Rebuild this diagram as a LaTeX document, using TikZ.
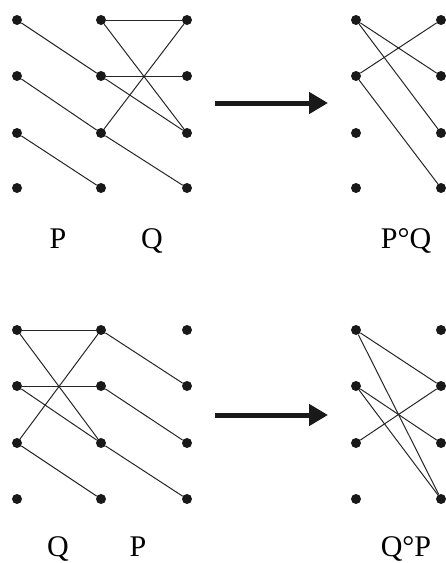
\documentclass[tikz,border=0pt]{standalone}
\usepackage{fontspec}
\setmainfont{Liberation Serif}
\usetikzlibrary{arrows.meta}

\begin{document}
\begin{tikzpicture}[x=1pt,y=-1pt,
 dot/.style={circle,fill=black!90,inner sep=0pt,minimum size=10pt},
 link/.style={line width=1pt,black!85},
 bigarrow/.style={-{Triangle[length=19pt,width=21pt]},line width=5pt,black!90},
 lbl/.style={font=\fontsize{30}{36}\selectfont,anchor=base,inner sep=0pt}]
\useasboundingbox (0,0) rectangle (446,563);

% dots of the four graphs
\foreach \c/\x in {0/17,1/101,2/187}
 \foreach \r/\yt/\yb in {0/20/330,1/76/386,2/133/443,3/188/499} {
  \node[dot] (pq-\c-\r) at (\x,\yt) {};
  \node[dot] (qp-\c-\r) at (\x,\yb) {};
 }
\foreach \c/\x in {0/356,1/441}
 \foreach \r/\yt/\yb in {0/20/330,1/76/386,2/133/443,3/188/499} {
  \node[dot] (pcq-\c-\r) at (\x,\yt) {};
  \node[dot] (qcp-\c-\r) at (\x,\yb) {};
 }

% P then Q
\foreach \i/\j in {0/1,1/2,2/3}
 \draw[link] (pq-0-\i) -- (pq-1-\j);
\foreach \i/\j in {0/0,0/2,1/1,1/2,2/0,2/3}
 \draw[link] (pq-1-\i) -- (pq-2-\j);
\foreach \i/\j in {0/1,0/2,1/0,1/3}
 \draw[link] (pcq-0-\i) -- (pcq-1-\j);

% Q then P
\foreach \i/\j in {0/0,0/2,1/1,1/2,2/0,2/3}
 \draw[link] (qp-0-\i) -- (qp-1-\j);
\foreach \i/\j in {0/1,1/2,2/3}
 \draw[link] (qp-1-\i) -- (qp-2-\j);
\foreach \i/\j in {0/1,0/3,1/2,1/3,2/1}
 \draw[link] (qcp-0-\i) -- (qcp-1-\j);

% arrows
\coordinate (topfrom) at (215,103);
\coordinate (topto) at (328,103);
\coordinate (botfrom) at (215,415);
\coordinate (botto) at (328,415);
\draw[bigarrow] (topfrom) -- (topto);
\draw[bigarrow] (botfrom) -- (botto);

% labels
\node[lbl] (labP) at (58,248) {P};
\node[lbl] (labQ) at (152,248) {Q};
\node[lbl] (labPQ) at (406,248) {P°Q};
\node[lbl] (labQ2) at (58,556) {Q};
\node[lbl] (labP2) at (138,556) {P};
\node[lbl] (labQP) at (406,556) {Q°P};
\end{tikzpicture}
\end{document}
